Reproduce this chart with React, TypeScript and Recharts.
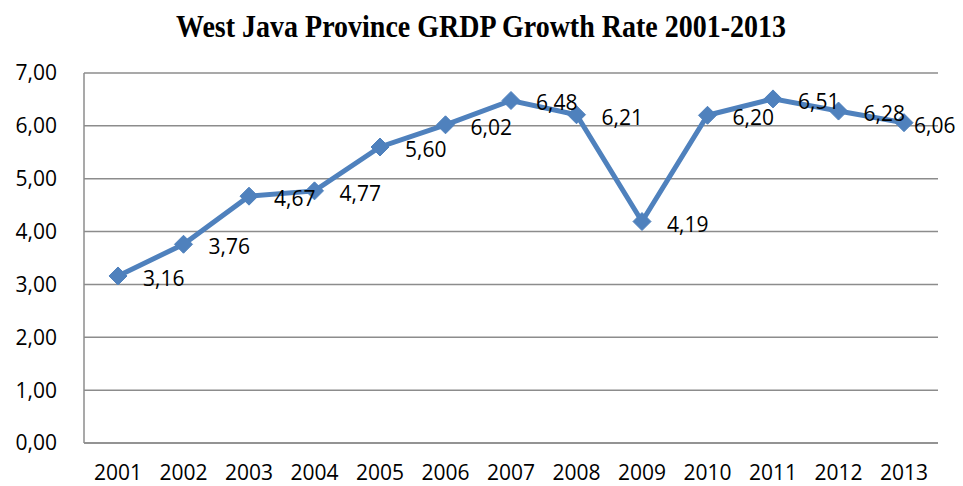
import {
  LineChart,
  Line,
  XAxis,
  YAxis,
  CartesianGrid,
  LabelList,
} from "recharts";

const years = ["2001", "2002", "2003", "2004", "2005", "2006", "2007", "2008", "2009", "2010", "2011", "2012", "2013"];
const growthRate = [3.16, 3.76, 4.67, 4.77, 5.6, 6.02, 6.48, 6.21, 4.19, 6.2, 6.51, 6.28, 6.06];
const yTicks = [0, 1, 2, 3, 4, 5, 6, 7];

const CHART_W = 963;
const CHART_H = 486;
const BLUE = "#4F81BD";
const GRID = "#8C8C8C";
const FONT = "'Open Sans', 'Liberation Sans', sans-serif";

const data = years.map((year, i) => ({ year, rate: growthRate[i] }));

const fmt = (v: number) => v.toFixed(2).replace(".", ",");

const Diamond = (props: any) => {
  const { cx, cy } = props;
  if (cx == null || cy == null) return null;
  const r = 9;
  return (
    <polygon
      points={`${cx},${cy - r} ${cx + r},${cy} ${cx},${cy + r} ${cx - r},${cy}`}
      fill={BLUE}
      stroke={BLUE}
    />
  );
};

const ValueLabel = (props: any) => {
  const { x, y, value } = props;
  const textW = 47;
  // keep the label inside the chart, like Excel does for the last point
  const lx = Math.min(x + 25, CHART_W - textW - 2);
  return (
    <text
      x={lx}
      y={y + 2}
      dominantBaseline="central"
      fontSize={21}
      fontFamily={FONT}
      fill="#000"
    >
      {fmt(value)}
    </text>
  );
};

export default function App() {
  return (
    <div style={{ position: "absolute", left: 0, top: 0, width: CHART_W, height: CHART_H, background: "#fff" }}>
      <svg width={CHART_W} height={50} style={{ position: "absolute", left: 0, top: 0 }}>
        <text
          x={481}
          y={37}
          textAnchor="middle"
          fontFamily="'Liberation Serif', 'Times New Roman', serif"
          fontWeight="bold"
          fontSize={28}
          fill="#000"
          transform="translate(0,37) scale(1,1.1) translate(0,-37)"
        >
          West Java Province GRDP Growth Rate 2001-2013
        </text>
      </svg>
      <LineChart
        width={CHART_W}
        height={CHART_H}
        data={data}
        margin={{ top: 73, right: 25, bottom: 0, left: 0 }}
        style={{ position: "absolute", left: 0, top: 0 }}
      >
        <CartesianGrid vertical={false} stroke={GRID} strokeWidth={1.5} />
        <XAxis
          dataKey="year"
          padding={{ left: 34, right: 34 }}
          height={43}
          tickLine={false}
          tickSize={0}
          tickMargin={22}
          axisLine={{ stroke: GRID, strokeWidth: 1.5 }}
          tick={{ fill: "#000", fontSize: 21, fontFamily: FONT }}
          interval={0}
        />
        <YAxis
          domain={[0, 7]}
          ticks={yTicks}
          width={84}
          tickLine={false}
          tickSize={0}
          tickMargin={27}
          axisLine={{ stroke: GRID, strokeWidth: 1.5 }}
          tickFormatter={fmt}
          tick={{ fill: "#000", fontSize: 21, fontFamily: FONT }}
        />
        <Line
          type="linear"
          dataKey="rate"
          stroke={BLUE}
          strokeWidth={5}
          dot={<Diamond />}
          activeDot={false}
          isAnimationActive={false}
        >
          <LabelList dataKey="rate" content={<ValueLabel />} />
        </Line>
      </LineChart>
    </div>
  );
}
